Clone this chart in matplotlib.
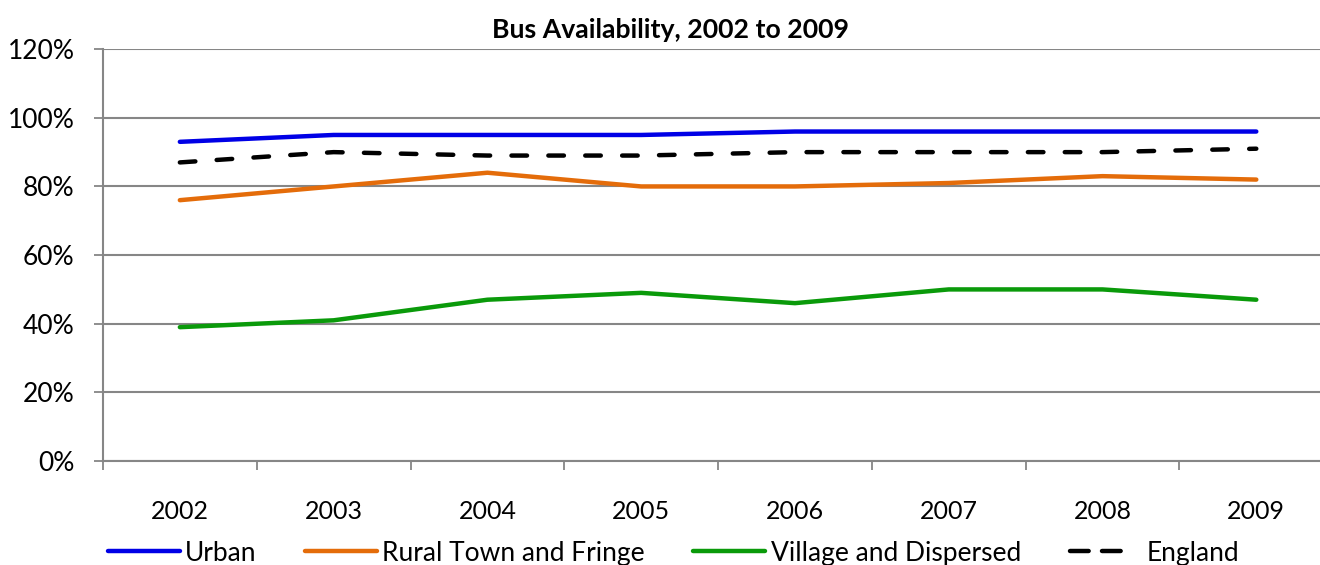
import matplotlib.pyplot as plt
from matplotlib.lines import Line2D
from matplotlib.ticker import FixedLocator, PercentFormatter

plt.rcParams['font.family'] = ['Lato', 'DejaVu Sans']

years = ['2002', '2003', '2004', '2005', '2006', '2007', '2008', '2009']
urban = [93, 95, 95, 95, 96, 96, 96, 96]
rural = [76, 80, 84, 80, 80, 81, 83, 82]
village = [39, 41, 47, 49, 46, 50, 50, 47]
england = [87, 90, 89, 89, 90, 90, 90, 91]

fig = plt.figure(figsize=(13.2, 5.65), dpi=100)
ax = fig.add_axes([0.078, 0.184, 0.932, 0.729])

x = range(len(years))
ax.plot(x, urban, color='#0000e6', lw=3.2, solid_capstyle='round', label='Urban', zorder=3)
ax.plot(x, rural, color='#e46c0a', lw=3.2, solid_capstyle='round', label='Rural Town and Fringe', zorder=3)
ax.plot(x, village, color='#0a9a0a', lw=3.2, solid_capstyle='round', label='Village and Dispersed', zorder=3)
ax.plot(x, england, color='black', lw=3.2, dashes=(3.5, 4.8), dash_capstyle='round', label='England', zorder=3)

ax.set_xlim(-0.5, len(years) - 0.5)
ax.set_ylim(0, 120)
ax.set_yticks(range(0, 121, 20))
ax.yaxis.set_major_formatter(PercentFormatter(decimals=0))
ax.set_xticks(list(x))
ax.set_xticklabels(years)
ax.xaxis.set_minor_locator(FixedLocator([i - 0.5 for i in range(len(years) + 1)]))
ax.tick_params(axis='x', which='major', length=0, pad=28, labelsize=18)
ax.tick_params(axis='x', which='minor', length=6.5, width=1.3, color='#868686', direction='out')
ax.tick_params(axis='y', length=6.5, width=1.3, color='#868686', labelsize=19, pad=14)

ax.grid(axis='y', color='#868686', lw=1.5, zorder=0)
for s in ['top', 'right']:
    ax.spines[s].set_visible(False)
for s in ['left', 'bottom']:
    ax.spines[s].set_color('#868686')
    ax.spines[s].set_linewidth(1.5)

# title is centred on the whole chart, not on the plot area
fig.text(0.5076, 0.947, 'Bus Availability, 2002 to 2009', fontsize=19.2, fontweight='bold',
         ha='center', va='center')

handles, labels = ax.get_legend_handles_labels()
# England key shows two dashes then a gap, like the original
handles[3] = Line2D([], [], color='black', lw=3.2, dashes=(4.2, 3.0, 4.2, 20), dash_capstyle='round')
fig.legend(handles, labels, loc='center left', bbox_to_anchor=(0.0635, 0.021), ncol=4,
           frameon=False, fontsize=19, handlelength=2.73, handletextpad=0.19,
           columnspacing=1.85)

fig.savefig('out.png', dpi=100)
